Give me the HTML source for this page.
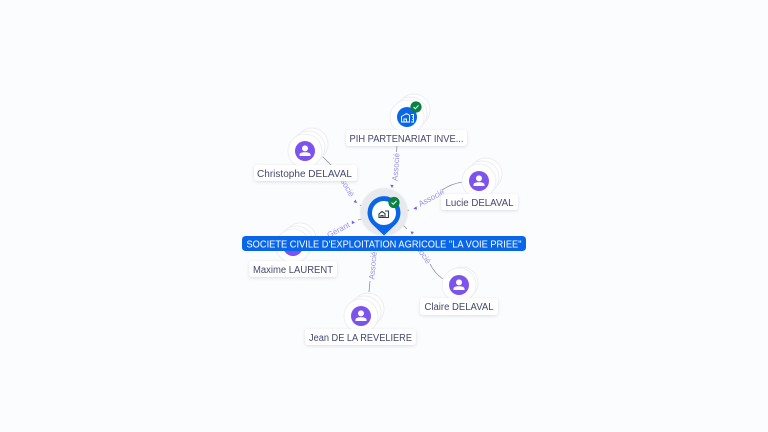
<!DOCTYPE html>
<html><head><meta charset="utf-8"><style>
html,body{margin:0;padding:0;width:768px;height:432px;overflow:hidden;background:#fbfcfe}
svg{display:block}
text{font-family:"Liberation Sans",sans-serif}
.l{font-size:10px;fill:#45476f;text-anchor:middle}
.e{font-size:8px;fill:#9a90ec;text-anchor:middle;dominant-baseline:central}
.ln{stroke:#8b8d9c;stroke-width:.8;fill:none}
.ar{fill:#7a5af0}
.s{fill:#fff;stroke:#ecedf1;stroke-width:1}
</style></head><body>
<svg width="768" height="432" viewBox="0 0 768 432" xmlns="http://www.w3.org/2000/svg">
<defs>
<filter id="sh" x="-30%" y="-30%" width="160%" height="170%"><feDropShadow dx="0" dy="1" stdDeviation="1.500" flood-color="#8a8fa8" flood-opacity=".28"/></filter>
<filter id="bl" x="-20%" y="-20%" width="140%" height="140%"><feGaussianBlur stdDeviation=".6"/></filter>
<g id="stack"><circle class="s" cx="7" cy="-7" r="16"/><circle class="s" cx="3.500" cy="-3.500" r="16.500"/><circle cx="0" cy="0" r="17" fill="#fff" stroke="#eeeff3"/></g>
<g id="person"><circle r="10" fill="#7d53ee"/><circle cy="-2.600" r="3" fill="#fff"/><path d="M-5.500 5v-1.200c0-1.800 2-2.600 5.500-2.600s5.500.8 5.500 2.600V5z" fill="#fff"/></g>
<g id="check"><circle r="5.600" fill="#0b8043"/><path d="M-2.400 0l1.700 1.800 3.200-3.400" fill="none" stroke="#fff" stroke-width="1"/></g>
</defs>

<!-- edges -->
<path class="ln" d="M322 156L333 167"/>
<path class="ln" d="M397 146L396.500 152"/>
<path class="ln" d="M391.500 192L391 197"/>
<path class="ln" d="M463 182C455 183 448 186 442 190"/>
<path class="ln" d="M443 279C437 275 433 270 430 264"/>
<path class="ln" d="M370 281L369 292"/>
<path class="ln" d="M360 205L368 211"/>
<path class="ln" d="M358 220L369 217"/>
<path class="ln" d="M399 214L409 210"/>
<path class="ln" d="M399 221L407 229"/>

<!-- arrowheads -->
<path class="ar" d="M392 188l-1.800-3.200 3.500.2z"/>
<path class="ar" d="M413.300 208.800l3.200-2.500.5 3.400z"/>
<path class="ar" d="M357 203l-3.400-.7 2-2.800z"/>
<path class="ar" d="M355 222.500l-3.200 1.800 0-3.800z"/>
<path class="ar" d="M410.500 231.500l3.400.4-2 2.900z"/>

<!-- edge labels -->
<text class="e" transform="translate(396 167) rotate(-86)">Associé</text>
<text class="e" transform="translate(431.500 198) rotate(-28)">Associé</text>
<text class="e" transform="translate(345 184) rotate(60)">Associé</text>
<text class="e" transform="translate(338.500 230) rotate(-28)">Gérant</text>
<text class="e" transform="translate(373 265.500) rotate(-85)">Associé</text>
<text class="e" transform="translate(421 251.500) rotate(55)">Associé</text>

<!-- Maxime -->
<use href="#stack" x="293" y="246"/>
<use href="#person" x="293" y="246"/>
<!-- Christophe -->
<use href="#stack" x="305" y="151"/>
<use href="#person" x="305" y="151"/>
<!-- PIH -->
<use href="#stack" x="407" y="117"/>
<circle cx="407" cy="117" r="10" fill="#0a66e8"/>
<path d="M401.500 122v-5.500l5-3 3 1.800V122zM404 122v-3h2.500v3M411 114.500h2.500V122H411M412 117h.8M412 119.500h.8" fill="none" stroke="#fff" stroke-width=".9"/>
<use href="#check" x="416" y="107"/>
<!-- Lucie -->
<use href="#stack" x="479" y="181"/>
<use href="#person" x="479" y="181"/>
<!-- Claire -->
<circle class="s" cx="462" cy="283" r="16"/>
<circle cx="459" cy="285" r="17" fill="#fff" stroke="#eeeff3"/>
<use href="#person" x="459" y="285"/>
<!-- Jean -->
<use href="#stack" x="361" y="316"/>
<use href="#person" x="361" y="316"/>

<!-- central pin -->
<circle cx="384" cy="212" r="24" fill="#e8e9ed" filter="url(#bl)"/>
<path d="M384 235.500l-12-11.500A16.500 16.500 0 1 1 396 224z" fill="#0a66e8"/>
<circle cx="384" cy="213" r="12" fill="#fff"/>
<path d="M379 217.500v-3.500l3-2.600 3 2.200v3.900zM381 217.500v-2h2v2M385 211h3.500v6.500H385" fill="#fff" stroke="#35384f" stroke-width="1.100"/>
<use href="#check" x="394" y="202.500"/>

<!-- labels -->
<g filter="url(#sh)" fill="#fff">
<rect x="254" y="165" width="103" height="16" rx="3"/>
<rect x="346" y="130" width="121" height="16" rx="3"/>
<rect x="441" y="194" width="77" height="16" rx="3"/>
<rect x="420" y="298" width="78" height="17" rx="3"/>
<rect x="305" y="329" width="111" height="16" rx="3"/>
<rect x="249" y="261" width="88" height="16" rx="3"/>
</g>
<text class="l" x="304.500" y="177" textLength="95" lengthAdjust="spacingAndGlyphs">Christophe DELAVAL</text>
<text class="l" x="406.500" y="142" textLength="114" lengthAdjust="spacingAndGlyphs">PIH PARTENARIAT INVE...</text>
<text class="l" x="479.500" y="206" textLength="68" lengthAdjust="spacingAndGlyphs">Lucie DELAVAL</text>
<text class="l" x="459" y="310" textLength="69" lengthAdjust="spacingAndGlyphs">Claire DELAVAL</text>
<text class="l" x="360.500" y="341" textLength="103" lengthAdjust="spacingAndGlyphs">Jean DE LA REVELIERE</text>
<text class="l" x="293" y="273" textLength="80" lengthAdjust="spacingAndGlyphs">Maxime LAURENT</text>

<rect x="242" y="236" width="284" height="15" rx="3.500" fill="#0a66e8"/>
<text x="384" y="247.500" font-size="10" fill="#fff" text-anchor="middle" textLength="275" lengthAdjust="spacingAndGlyphs">SOCIETE CIVILE D'EXPLOITATION AGRICOLE "LA VOIE PRIEE"</text>
</svg>
</body></html>
